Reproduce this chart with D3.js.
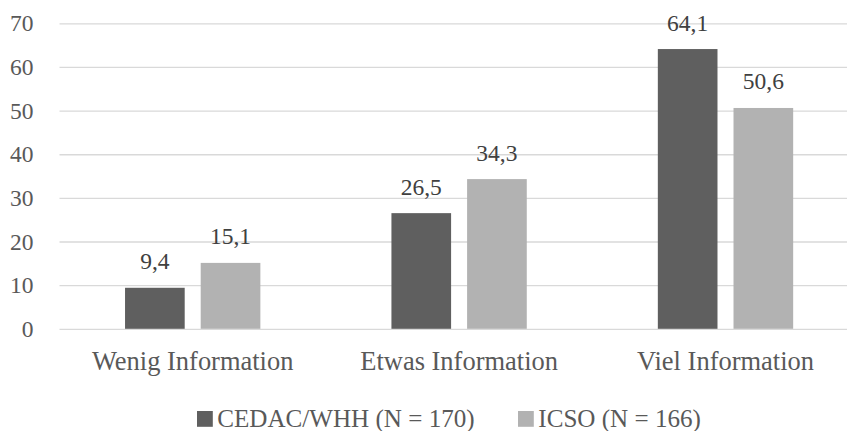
<!DOCTYPE html>
<html><head><meta charset="utf-8">
<script src="https://cdn.jsdelivr.net/npm/d3@7/dist/d3.min.js"></script>
<style>
html,body{margin:0;padding:0;background:#fff;}
svg{display:block;}
</style></head>
<body><svg id="chart" width="847" height="431"></svg>
<script>
const categories = ["Wenig Information", "Etwas Information", "Viel Information"];
const seriesNames = ["CEDAC/WHH (N = 170)", "ICSO (N = 166)"];
const cedacValues = [9.4, 26.5, 64.1];
const icsoValues = [15.1, 34.3, 50.6];
const yTicks = [0, 10, 20, 30, 40, 50, 60, 70];
const colors = ["#5f5f5f", "#b2b2b2"];

const FONT = '"Liberation Serif", "Times New Roman", serif';
const svg = d3.select("#chart");

function fitSize(txt, target) {
  const probe = svg.append("text").style("font-family", FONT).style("font-size", "25px").text(txt);
  const s = 25 * target / probe.node().getComputedTextLength();
  probe.remove();
  return s + "px";
}
const fsCat = fitSize(categories[0], 201.6);
const fsLeg = fitSize(seriesNames[0], 257.5);
const fsNum = "23.5px";

const plot = {left: 59.5, right: 858.7, top: 23.3, bottom: 328.8};

const y = d3.scaleLinear().domain([0, 70]).range([plot.bottom, plot.top]);
const x0 = d3.scaleBand().domain(categories).range([plot.left, plot.right]).paddingInner(0.492).paddingOuter(0.246);
const x1 = d3.scaleBand().domain(seriesNames).range([0, x0.bandwidth()]).paddingInner(0.2116);

// gridlines + y labels
const yAxis = d3.axisLeft(y).tickValues(yTicks).tickSize(-(plot.right - plot.left)).tickPadding(26).tickFormat(d3.format("d"));
const gAxis = svg.append("g").attr("transform", `translate(${plot.left},0)`).call(yAxis);
gAxis.select(".domain").remove();
gAxis.selectAll(".tick line").attr("stroke", "#d9d9d9").attr("stroke-width", 1.3);
gAxis.selectAll(".tick text").attr("fill", "#595959").style("font-size", fsNum).style("font-family", FONT);

const data = categories.map((c, i) => ({cat: c, vals: [cedacValues[i], icsoValues[i]]}));

const groups = svg.append("g").selectAll("g").data(data).join("g")
  .attr("transform", d => `translate(${x0(d.cat)},0)`);

groups.selectAll("rect").data(d => d.vals.map((v, j) => ({v, s: seriesNames[j], j})))
  .join("rect")
  .attr("x", d => x1(d.s))
  .attr("y", d => y(d.v))
  .attr("width", x1.bandwidth())
  .attr("height", d => y(0) - y(d.v))
  .attr("fill", d => colors[d.j]);

groups.selectAll("text.lbl").data(d => d.vals.map((v, j) => ({v, s: seriesNames[j], j})))
  .join("text").attr("class", "lbl")
  .attr("x", d => x1(d.s) + x1.bandwidth() / 2)
  .attr("y", d => y(d.v) - 18.5)
  .attr("text-anchor", "middle")
  .style("font-size", fsNum).style("font-family", FONT)
  .attr("fill", "#404040")
  .text(d => d3.format(".1f")(d.v).replace(".", ","));

// x axis labels
const xAxis = d3.axisBottom(x0).tickSize(0).tickPadding(0);
const gx = svg.append("g").attr("transform", `translate(0,${plot.bottom})`).call(xAxis);
gx.select(".domain").remove();
gx.selectAll(".tick text").attr("dy", null).attr("y", 41.5).attr("fill", "#595959")
  .style("font-size", fsCat).style("font-family", FONT);

// legend
const legendX = [197, 518];
const leg = svg.append("g").selectAll("g").data(seriesNames).join("g")
  .attr("transform", (d, i) => `translate(${legendX[i]},411)`);
leg.append("rect").attr("width", 15.8).attr("height", 15.8).attr("fill", (d, i) => colors[i]);
leg.append("text").attr("x", 20.3).attr("y", 16.3).style("font-size", fsLeg).style("font-family", FONT).attr("fill", "#595959").text(d => d);
</script></body></html>
